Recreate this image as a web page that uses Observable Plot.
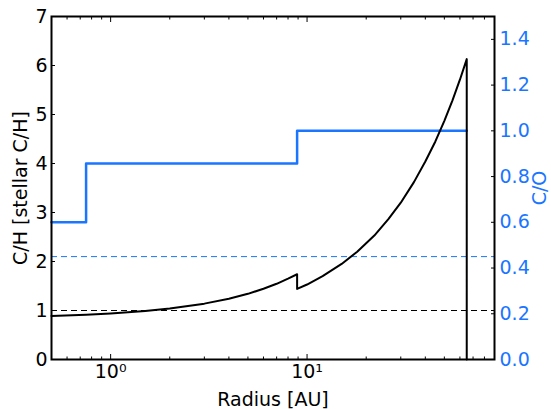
<!DOCTYPE html>
<html><head><meta charset="utf-8">
<script src="https://cdn.jsdelivr.net/npm/d3@7"></script>
<script src="https://cdn.jsdelivr.net/npm/@observablehq/plot@0.6"></script>
<style>body{margin:0;background:#fff} #chart svg{font-family:"DejaVu Sans";}</style>
</head><body><div id="chart"></div>
<script>
// C/H profile (black), in stellar C/H units
const radiusCH = [0.5, 0.75, 1, 1.5, 2, 3, 4, 5, 6, 7, 8, 8.9, 8.9, 10, 12, 15, 18, 22, 26, 30, 35, 40, 45, 50, 55, 60, 65, 65];
const valueCH  = [0.89, 0.915, 0.94, 0.99, 1.04, 1.14, 1.24, 1.34, 1.445, 1.545, 1.65, 1.74, 1.44, 1.53, 1.70, 1.95, 2.20, 2.53, 2.87, 3.20, 3.62, 4.04, 4.45, 4.87, 5.29, 5.71, 6.13, 0];
// C/O step profile (blue), right axis
const radiusCO = [0.5, 0.75, 0.75, 8.9, 8.9, 65];
const valueCO  = [0.6, 0.6, 0.857, 0.857, 1.0, 1.0];
// reference levels
const chRef = [1.0];
const coRef = [0.45];
// ticks
const yTicks = [0, 1, 2, 3, 4, 5, 6, 7];
const coTicks = [0, 0.2, 0.4, 0.6, 0.8, 1.0, 1.2, 1.4];
const xMajor = [1, 10];
const xMajorLabels = ["10\u2070", "10\u00b9"];
const xMinor = [0.5, 0.6, 0.7, 0.8, 0.9, 2, 3, 4, 5, 6, 7, 8, 9, 20, 30, 40, 50, 60, 70, 80, 90];

const BLUE = "#1a75ff";
const k = 7 / 1.5; // C/O -> C/H axis scale factor

const chData = radiusCH.map((r, i) => ({r, v: valueCH[i]}));
const coData = radiusCO.map((r, i) => ({r, v: valueCO[i] * k}));

const chart = Plot.plot({
  width: 551,
  height: 409,
  marginLeft: 51,
  marginRight: 57,
  marginTop: 16,
  marginBottom: 50,
  style: {fontFamily: "DejaVu Sans", fontSize: "19px", color: "black", background: "white"},
  x: {type: "log", domain: [0.5, 90]},
  y: {domain: [0, 7]},
  marks: [
    Plot.ruleY(chRef, {stroke: "black", strokeWidth: 1, strokeDasharray: "6,4"}),
    Plot.ruleY(coRef, {y: d => d * k, stroke: BLUE, strokeWidth: 1, strokeDasharray: "6,4"}),
    Plot.line(coData, {x: "r", y: "v", stroke: BLUE, strokeWidth: 2.5}),
    Plot.line(chData, {x: "r", y: "v", stroke: "black", strokeWidth: 2}),
    // left axis
    Plot.axisY({anchor: "left", ticks: yTicks, tickSize: -4, tickPadding: 8, tickFormat: d => String(d),
      label: "C/H [stellar C/H]", labelAnchor: "center", labelArrow: "none", labelOffset: 38}),
    // right axis (C/O)
    Plot.axisY({anchor: "right", ticks: coTicks.map(d => d * k), tickSize: -4, tickPadding: 9,
      tickFormat: d => (d / k).toFixed(1), fill: BLUE,
      label: "C/O", labelAnchor: "center", labelArrow: "none", labelOffset: 51}),
    // bottom axis
    Plot.axisX({anchor: "bottom", ticks: xMajor, tickSize: -5, tickPadding: 10,
      tickFormat: d => xMajorLabels[xMajor.indexOf(d)],
      label: "Radius [AU]", labelAnchor: "center", labelArrow: "none", labelOffset: 46}),
    Plot.axisX({anchor: "bottom", ticks: xMinor, tickSize: -2.5, tickFormat: () => "", label: null}),
    // top axis ticks
    Plot.axisX({anchor: "top", ticks: xMajor, tickSize: -5, tickFormat: () => "", label: null}),
    Plot.axisX({anchor: "top", ticks: xMinor, tickSize: -2.5, tickFormat: () => "", label: null}),
    Plot.frame({stroke: "black", strokeWidth: 2})
  ]
});
document.getElementById("chart").appendChild(chart);
</script>
</body></html>
